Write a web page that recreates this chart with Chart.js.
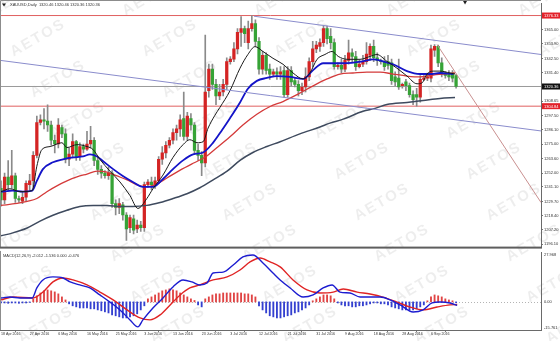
<!DOCTYPE html>
<html>
<head>
<meta charset="utf-8">
<title>XAUUSD Daily</title>
<script src="https://cdn.jsdelivr.net/npm/chart.js@4.4.1/dist/chart.umd.min.js"></script>
<style>
  html, body { margin: 0; padding: 0; background: #fff; }
  #wrap { position: relative; width: 560px; height: 341px; overflow: hidden; background: #fff; }
  #wrap canvas { position: absolute; left: 0; }
</style>
</head>
<body>
<div id="wrap">
  <canvas id="wm" width="560" height="341" style="top:0"></canvas>
  <canvas id="priceChart" width="560" height="251" style="top:0"></canvas>
  <canvas id="macdChart" width="560" height="90" style="top:251px"></canvas>
</div>
<script>
// XAUUSD daily with MAs, trend lines and MACD(12,26,9)

// time axis (a label every 8th bar, bar 0 = 18 Apr 2016)
const dateLabels = ['18 Apr 2016', '27 Apr 2016', '6 May 2016', '16 May 2016', '25 May 2016', '3 Jun 2016',
  '13 Jun 2016', '23 Jun 2016', '3 Jul 2016', '12 Jul 2016', '21 Jul 2016', '31 Jul 2016', '9 Aug 2016',
  '18 Aug 2016', '28 Aug 2016', '6 Sep 2016'];
const dateBars = [0, 8, 16, 24, 32, 40, 48, 56, 64, 72, 80, 88, 96, 104, 112, 120];

// candles
const opens = [
  1240, 1231, 1249, 1243, 1250, 1232, 1230, 1233, 1243, 1246,
  1266, 1292, 1294, 1293, 1290, 1278, 1275, 1288, 1283, 1263,
  1267, 1277, 1265, 1273, 1271, 1275, 1278, 1262, 1255, 1252,
  1250, 1252, 1228, 1225, 1227, 1219, 1209, 1216, 1208, 1211,
  1209, 1243, 1245, 1243, 1246, 1263, 1268, 1274, 1278, 1284,
  1287, 1295, 1281, 1295, 1290, 1270, 1266, 1260, 1317, 1334,
  1322, 1313, 1316, 1322, 1340, 1342, 1350, 1363, 1366, 1355,
  1366, 1370, 1356, 1334, 1345, 1334, 1330, 1332, 1330, 1333,
  1314, 1333, 1325, 1322, 1317, 1320, 1328, 1340, 1350, 1352,
  1355, 1366, 1360, 1355, 1336, 1337, 1334, 1341, 1347, 1344,
  1336, 1338, 1340, 1345, 1352, 1343, 1341, 1340, 1340, 1339,
  1328, 1327, 1321, 1324, 1321, 1314, 1314, 1312, 1326, 1327,
  1327, 1349, 1352, 1339, 1331, 1330, 1331, 1329];
const highs = [
  1246, 1252, 1262, 1270, 1252, 1234, 1237, 1246, 1251, 1269,
  1297, 1298, 1303, 1306, 1293, 1282, 1295, 1290, 1287, 1272,
  1283, 1278, 1276, 1275, 1285, 1289, 1280, 1265, 1258, 1254,
  1257, 1254, 1231, 1232, 1229, 1221, 1219, 1219, 1215, 1214,
  1245, 1247, 1249, 1249, 1265, 1273, 1277, 1280, 1287, 1290,
  1298, 1316, 1300, 1299, 1292, 1275, 1269, 1361, 1338, 1338,
  1326, 1322, 1326, 1343, 1344, 1355, 1366, 1375.5, 1368, 1372,
  1376.3, 1373, 1359, 1348, 1347, 1338, 1334, 1335, 1336, 1336,
  1336, 1336, 1327, 1325, 1323, 1335, 1343, 1356, 1356, 1358,
  1368, 1368, 1366, 1358, 1339, 1342, 1345, 1357, 1350, 1348,
  1341, 1345, 1355, 1354, 1357, 1347, 1342, 1344, 1345, 1342,
  1332, 1342, 1323, 1326, 1323, 1317, 1319, 1329, 1329, 1331,
  1353, 1353.5, 1353, 1343, 1332, 1333, 1333, 1330];
const lows = [
  1226, 1228, 1238, 1240, 1229, 1229, 1228, 1230, 1239, 1240,
  1264, 1290, 1287, 1285, 1274, 1268, 1272, 1280, 1260, 1258,
  1264, 1262, 1262, 1268, 1270, 1272, 1258, 1251, 1248, 1248,
  1247, 1225, 1219, 1220, 1215, 1199, 1205, 1204, 1205, 1206,
  1206, 1241, 1239, 1240, 1244, 1259, 1264, 1272, 1275, 1278,
  1281, 1278, 1278, 1286, 1267, 1262, 1250, 1257, 1312, 1318,
  1306, 1310, 1313, 1318, 1338, 1340, 1346, 1352, 1355, 1350,
  1364, 1352, 1330, 1330, 1330, 1326, 1328, 1326, 1326, 1312,
  1312, 1321, 1320, 1313, 1314, 1316, 1325, 1336, 1347, 1348,
  1352, 1354, 1350, 1334, 1334, 1331, 1332, 1338, 1340, 1333,
  1335, 1336, 1338, 1341, 1340, 1337, 1338, 1333, 1334, 1322,
  1321, 1318, 1319, 1317, 1312, 1306, 1304.84, 1308, 1325, 1325,
  1324, 1344, 1336, 1328, 1327, 1325, 1324, 1319];
const closes = [
  1231, 1249, 1243, 1250, 1232, 1231, 1233, 1244, 1246, 1266,
  1292, 1294, 1293, 1290, 1278, 1275, 1290, 1283, 1263, 1267,
  1277, 1265, 1273, 1271, 1275, 1278, 1262, 1255, 1252, 1250,
  1252, 1228, 1225, 1228, 1219, 1208, 1217, 1207, 1211, 1209,
  1243, 1245, 1243, 1246, 1263, 1268, 1274, 1278, 1284, 1287,
  1294, 1281, 1297, 1290, 1270, 1266, 1260, 1316, 1334, 1322,
  1313, 1316, 1322, 1340, 1342, 1350, 1363, 1366, 1362, 1366,
  1370, 1356, 1334, 1345, 1333, 1330, 1332, 1330, 1332, 1314,
  1333, 1324, 1322, 1317, 1320, 1328, 1340, 1350, 1353, 1355,
  1366, 1358, 1355, 1336, 1337, 1334, 1341, 1347, 1344, 1336,
  1338, 1340, 1346, 1352, 1343, 1341, 1340, 1336, 1337, 1325,
  1324, 1320, 1322, 1321, 1314, 1310, 1312, 1326, 1327, 1328,
  1350, 1352, 1339, 1331, 1329, 1328, 1327, 1320.4];

// moving averages, sampled along each line
const fastMaBars = [0, 2.5, 5.3, 8.7, 10, 11.4, 13.7, 17, 18.4, 21.2, 24, 25.7, 27.6, 30.4, 33.2, 36, 38.2,
  40.7, 42.4, 45.2, 48, 50.8, 52.7, 54.7, 56.4, 57.8, 59.7, 61.1, 63.9, 66.7, 68.9, 70.9, 73.1, 75.9, 78.7,
  81.5, 84.3, 86.2, 88.2, 90.4, 92.4, 94.1, 96.6, 100.2, 103, 104.9, 107.7, 110.5, 113.3, 116.1, 117.5,
  118.9, 120.6, 122.5, 125.3, 126.7];
const fastMa = [1237.4, 1239.7, 1237.4, 1238.2, 1257.5, 1270.6, 1273.0, 1276.0, 1272.2, 1274.5, 1273.0,
  1270.6, 1262.9, 1253.6, 1245.1, 1234.3, 1224.2, 1232.0, 1239.7, 1250.5, 1264.4, 1274.5, 1278.4, 1276.0,
  1276.8, 1287.6, 1297.7, 1303.9, 1317.0, 1334.8, 1345.6, 1351.8, 1348.0, 1342.6, 1337.9, 1331.0, 1326.3,
  1331.0, 1341.8, 1345.6, 1348.0, 1344.1, 1341.8, 1341.8, 1344.1, 1345.6, 1340.2, 1334.8, 1328.6, 1322.5,
  1323.2, 1330.2, 1332.5, 1332.5, 1331.0, 1330.2];
const midMaBars = [0, 3.3, 6.1, 8.7, 10, 11.7, 14.5, 17.3, 20.1, 22.9, 24.8, 26.8, 28.5, 31.3, 34, 36.8,
  39.6, 42.4, 45.2, 48, 50.8, 53.6, 56.4, 59.2, 61.7, 63.9, 66.7, 68.9, 71.4, 74.2, 77, 80.7, 84.3, 87.1,
  89.9, 92.7, 95.5, 101, 103.8, 106.6, 109.4, 113.3, 116.9, 119.7, 122.5, 126.2];
const midMa = [1237.4, 1238.2, 1237.4, 1238.2, 1245.9, 1255.2, 1260.6, 1262.9, 1264.4, 1265.2, 1266.8,
  1265.2, 1261.4, 1255.2, 1249.8, 1245.1, 1241.2, 1241.2, 1247.4, 1255.2, 1262.1, 1266.8, 1268.3, 1276.1,
  1286.1, 1295.4, 1307.8, 1318.6, 1324.8, 1327.1, 1328.6, 1327.9, 1326.3, 1333.3, 1338.7, 1338.7, 1338.7,
  1340.2, 1341.8, 1340.2, 1337.9, 1332.5, 1330.2, 1330.2, 1331.0, 1330.2];
const slowMaBars = [0, 4.5, 7.3, 10, 12.8, 15.6, 18.4, 21.2, 24, 26.8, 29.6, 32.4, 35.2, 38, 40.2, 43, 46.3,
  50, 53.6, 56.9, 60.3, 63.9, 67.5, 71.4, 75.1, 78.7, 82.6, 87.1, 91, 94.6, 98.2, 102.1, 105.8, 109.4,
  113.3, 116.9, 120.6, 126.7];
const slowMa = [1226.6, 1228.1, 1229.7, 1232.0, 1237.4, 1242.0, 1245.9, 1249.0, 1251.3, 1253.6, 1252.9,
  1249.8, 1246.7, 1242.8, 1241.2, 1242.8, 1248.2, 1254.4, 1259.8, 1264.5, 1272.2, 1280.7, 1290.0, 1298.5,
  1304.6, 1308.5, 1313.9, 1320.9, 1326.3, 1330.2, 1331.0, 1331.7, 1331.7, 1330.2, 1328.6, 1327.9, 1329.4,
  1331.0];
const longMaBars = [0, 3.3, 7.3, 10.9, 14.5, 18.4, 22, 25.7, 29.6, 33.2, 36.8, 40.7, 44.4, 48, 51.9, 55.5,
  59.2, 63.1, 66.7, 70.3, 74.2, 77.9, 83.4, 89, 91.8, 95.5, 101, 104.4, 107.7, 113.3, 117.8, 122.5, 126.7];
const longMa = [1202.6, 1204.9, 1208.8, 1214.2, 1218.8, 1222.7, 1225.8, 1226.6, 1226.6, 1225.8, 1225.8,
  1226.6, 1228.9, 1232.0, 1235.8, 1240.5, 1246.7, 1253.6, 1262.1, 1268.3, 1273.0, 1276.8, 1283.0, 1288.4,
  1291.5, 1294.6, 1300.8, 1303.1, 1306.2, 1307.8, 1309.3, 1310.9, 1311.6];

// trend lines and horizontal levels
const upperTrendBars = [70.6, 150.7];
const upperTrendPrices = [1375.8, 1345.6];
const lowerTrendBars = [-0.3, 150.7];
const lowerTrendPrices = [1341.0, 1285.3];
const fallTrendBars = [121.7, 150.7];
const fallTrendPrices = [1353.4, 1228.9];
const levelPrices = [1376.33, 1320.36, 1304.84];

// price axis labels
const priceTicks = [1365.00, 1353.90, 1342.50, 1331.40, 1308.65, 1297.50, 1286.10, 1275.00, 1263.60,
  1252.00, 1241.10, 1229.70, 1218.40, 1207.20, 1196.10];

// MACD
const macdBars = [0, 2.5, 5.3, 8.7, 10, 11.7, 14.5, 17.3, 19.3, 22, 24.8, 27.6, 30.4, 33.2, 36, 38.2, 39.6,
  42.4, 45.2, 48, 50.8, 53.3, 55.5, 57.5, 59.2, 62, 64.8, 67.5, 70.3, 73.1, 75.9, 77.9, 80.7, 84.3, 87.1,
  89.9, 92.4, 94.6, 97.4, 100.2, 103, 105.8, 108.6, 111.4, 115, 117.8, 120.3, 122.5, 125.3, 127.3];
const macdMain = [2.2, 2.7, 2.2, 2.2, 7.8, 12.3, 14.0, 13.4, 11.2, 9.5, 7.8, 3.9, -0.1, -4.5, -10.1, -14.0,
  -10.1, -3.4, 2.2, 8.4, 12.3, 11.2, 9.5, 10.6, 16.2, 16.7, 20.7, 25.2, 26.3, 21.8, 16.2, 12.3, 7.8, 2.7,
  3.9, 7.8, 9.5, 5.5, 5.0, 2.7, 2.7, 2.7, 1.1, -1.7, -5.7, -4.5, -0.6, -0.1, -0.6, -2.0];
const signalBars = [0, 3.3, 8.9, 11.7, 14.5, 17.3, 20.1, 24, 27.6, 31.3, 35.2, 38.8, 41.6, 44.4, 47.2, 50,
  52.7, 55.5, 59.2, 63.1, 66.7, 69.5, 72.3, 75.1, 77.9, 81.5, 85.4, 89, 92.7, 95.5, 99.4, 103, 106.6,
  110.5, 114.2, 117.8, 121.7, 125.3, 127.3];
const macdSignal = [1.1, 2.7, 2.2, 5.5, 11.2, 13.4, 12.3, 9.5, 5.5, 1.1, -4.5, -9.0, -10.1, -7.3, -1.7, 3.9,
  7.8, 9.5, 12.3, 14.0, 17.9, 22.4, 24.6, 22.4, 19.6, 12.3, 6.7, 5.0, 5.5, 7.2, 5.5, 4.4, 2.7, -0.1, -2.9,
  -4.5, -2.9, -1.7, -1.5];
const macdHist = [
  -0.6, -0.6, -0.8, -0.6, -0.6, -0.8, -0.6, -0.6, -0.3,
  1.7, 3.4, 5.0, 6.2, 6.7, 6.2, 5.6, 4.5, 2.8, 1.1,
  -1.1, -2.2, -2.8, -3.4, -3.4, -3.4, -3.9, -3.9, -4.5, -5.0, -5.6, -6.2, -7.3, -7.8, -8.4, -9.0, -9.0,
  -8.4, -7.8, -6.7, -4.5, -2.2,
  1.7, 2.8, 3.9, 5.0, 6.2, 6.7, 7.3, 6.7, 6.2, 5.0, 3.9, 2.8, 1.7, 0.8,
  -1.7, -2.8,
  1.7, 2.8, 3.9, 4.5, 4.5, 5.0, 5.0, 5.0, 5.0, 5.0, 5.0, 4.5, 4.5, 3.9, 2.8,
  -2.2, -4.5, -6.2, -7.8, -8.4, -9.0,
  -9.0, -8.4, -7.8, -7.3, -6.2, -5.6, -4.5, -3.4, -1.7,
  0.6, 1.7, 2.8, 3.9, 3.9, 3.4, 1.7,
  -0.6, -1.7, -2.2, -2.2, -2.8, -2.8, -2.2, -2.2, -1.7,
  -1.1, -0.6, -0.6, -1.1, -1.1,
  -1.7, -2.8, -3.4, -3.9, -4.5, -4.5, -4.5, -4.5, -3.9, -2.8, -1.7,
  0.6, 2.8, 3.9, 3.4, 2.8, 1.7, 1.1, 0.6, -0.5];
const macdTicks = [27.968, 0, -15.761];
const macdTickLabels = ['27.968', '0.00', '-15.761'];

const priceTitle = 'XAUUSD,Daily  1320.46 1320.46 1320.36 1320.36';
const macdTitle = 'MACD(12,26,9) -2.012 -1.536 0.000 -0.476';

// view window
const X_MIN = -0.28, X_MAX = 150.7;
const P_MIN = 1193.3, P_MAX = 1385.9;

const FONT = '"Liberation Sans", Arial, sans-serif';
const UP = '#d42424', DOWN = '#36a336';
const TEXT = '#333';

Chart.defaults.font.family = FONT;

function pts(bars, vals) {
  return bars.map((b, i) => ({ x: b, y: vals[i] }));
}

function lineDs(data, color, width, order, smooth) {
  return {
    type: 'line', data, borderColor: color, borderWidth: width, pointRadius: 0, fill: false,
    cubicInterpolationMode: smooth ? 'monotone' : 'default', tension: 0, order
  };
}

// watermark behind both panels
function drawWatermark() {
  const c = document.getElementById('wm').getContext('2d');
  c.font = 'bold 15px ' + FONT;
  if ('letterSpacing' in c) c.letterSpacing = '2px';
  c.fillStyle = 'rgba(0,0,0,0.07)';
  c.textAlign = 'center';
  c.textBaseline = 'middle';
  for (let k = -4; k <= 6; k++) {
    for (let m = -2; m <= 5; m++) {
      c.save();
      c.translate(78 + 132 * m + 20 * k, 120 + 41 * k);
      c.rotate(-0.52);
      c.fillText('AETOS', 0, 0);
      c.restore();
    }
  }
}

const candleColors = opens.map((o, i) => closes[i] >= o ? UP : DOWN);
const levelColors = ['#e06060', '#9a9a9a', '#e06060'];
const levelBoxColors = ['#e3222a', '#111111', '#e3222a'];

const priceOverlay = {
  id: 'priceOverlay',
  afterDraw(chart) {
    const { ctx, chartArea: a, scales: { x, y } } = chart;
    ctx.save();
    // frame
    ctx.strokeStyle = '#8c8c8c';
    ctx.lineWidth = 1;
    ctx.beginPath();
    ctx.moveTo(0.5, a.bottom);
    ctx.lineTo(0.5, 0.5);
    ctx.lineTo(a.right, 0.5);
    ctx.stroke();
    // panel separator
    ctx.fillStyle = '#5e5e5e';
    ctx.fillRect(0, a.bottom - 1, a.right + 1, 2);
    // title
    ctx.fillStyle = '#222';
    ctx.beginPath();
    ctx.moveTo(2, 3.5); ctx.lineTo(6, 3.5); ctx.lineTo(4, 6.5);
    ctx.fill();
    ctx.font = '4px ' + FONT;
    ctx.fillStyle = TEXT;
    ctx.textBaseline = 'middle';
    ctx.textAlign = 'left';
    ctx.fillText(priceTitle, 10, 5);
    // chart shift marker
    const sx = x.getPixelForValue(129.5);
    ctx.fillStyle = '#222';
    ctx.beginPath();
    ctx.moveTo(sx - 2, 1); ctx.lineTo(sx + 2, 1); ctx.lineTo(sx, 4.5);
    ctx.fill();
    // highlighted price labels
    levelPrices.forEach((v, i) => {
      const py = y.getPixelForValue(v);
      ctx.fillStyle = levelBoxColors[i];
      ctx.fillRect(a.right + 1, py - 3, 19, 6);
      ctx.fillStyle = '#fff';
      ctx.fillText(v.toFixed(2), a.right + 3, py + 0.3);
    });
    ctx.restore();
  }
};

const priceChart = new Chart(document.getElementById('priceChart'), {
  type: 'bar',
  data: {
    datasets: [
      {
        data: highs.map((h, i) => ({ x: i, y: [lows[i], h] })),
        backgroundColor: '#8a8a8a', barThickness: 1, grouped: false, order: 10
      },
      {
        data: opens.map((o, i) => ({ x: i, y: [o, closes[i]] })),
        backgroundColor: candleColors, barThickness: 2.6, minBarLength: 1, grouped: false, order: 9
      },
      ...levelPrices.map((v, i) => lineDs([{ x: X_MIN, y: v }, { x: X_MAX, y: v }], levelColors[i], 1, 11, false)),
      lineDs(pts(longMaBars, longMa), '#3e4a5e', 1.5, 5, true),
      lineDs(pts(slowMaBars, slowMa), '#d43a3a', 1.3, 4, true),
      lineDs(pts(midMaBars, midMa), '#1414c8', 1.8, 3, true),
      lineDs(pts(fastMaBars, fastMa), '#1a1a1a', 1, 2, true),
      lineDs(pts(upperTrendBars, upperTrendPrices), '#8a8ccc', 1, 1, false),
      lineDs(pts(lowerTrendBars, lowerTrendPrices), '#8a8ccc', 1, 1, false),
      lineDs(pts(fallTrendBars, fallTrendPrices), '#c99090', 1, 1, false)
    ]
  },
  options: {
    responsive: false,
    devicePixelRatio: 1,
    animation: false,
    events: [],
    layout: { padding: { top: 1, bottom: 1, left: 0, right: 0 } },
    plugins: { legend: { display: false }, tooltip: { enabled: false } },
    scales: {
      x: { type: 'linear', min: X_MIN, max: X_MAX, offset: false, display: false },
      y: {
        position: 'right', min: P_MIN, max: P_MAX,
        afterFit(s) { s.width = 19; },
        afterBuildTicks(s) { s.ticks = priceTicks.map(v => ({ value: v })); },
        ticks: {
          autoSkip: false, padding: 1, color: TEXT, font: { size: 4 },
          callback: v => v.toFixed(2)
        },
        grid: { drawOnChartArea: false, tickLength: 2, color: '#777' },
        border: { display: true, color: '#6a6a6a' }
      }
    }
  },
  plugins: [priceOverlay]
});

const macdOverlay = {
  id: 'macdOverlay',
  beforeDatasetsDraw(chart) {
    const { ctx, chartArea: a, scales: { y } } = chart;
    const zy = Math.round(y.getPixelForValue(0)) + 0.5;
    ctx.save();
    ctx.strokeStyle = '#b4b4b4';
    ctx.lineWidth = 1;
    ctx.setLineDash([1, 2]);
    ctx.beginPath();
    ctx.moveTo(a.left, zy);
    ctx.lineTo(a.right, zy);
    ctx.stroke();
    ctx.restore();
  },
  afterDraw(chart) {
    const { ctx, chartArea: a, scales: { y } } = chart;
    ctx.save();
    ctx.strokeStyle = '#8c8c8c';
    ctx.lineWidth = 1;
    ctx.beginPath();
    ctx.moveTo(0.5, a.bottom);
    ctx.lineTo(0.5, 0);
    ctx.stroke();
    ctx.font = '4px ' + FONT;
    ctx.fillStyle = TEXT;
    ctx.textAlign = 'left';
    ctx.textBaseline = 'middle';
    ctx.fillText(macdTitle, 3, a.top + 4);
    macdTicks.forEach((v, i) => {
      const py = y.getPixelForValue(v);
      ctx.textBaseline = i === 0 ? 'top' : (i === macdTicks.length - 1 ? 'bottom' : 'middle');
      ctx.fillText(macdTickLabels[i], a.right + 3, i === 0 ? py + 0.5 : py);
    });
    ctx.restore();
  }
};

const macdChart = new Chart(document.getElementById('macdChart'), {
  type: 'bar',
  data: {
    datasets: [
      {
        data: macdHist.map((h, i) => ({ x: i, y: h })),
        backgroundColor: macdHist.map(h => h >= 0 ? '#e04444' : '#3440d0'),
        barThickness: 1.2, grouped: false, order: 3
      },
      lineDs(pts(signalBars, macdSignal), '#e02424', 1.4, 2, true),
      lineDs(pts(macdBars, macdMain), '#1c1cd0', 1.4, 1, true)
    ]
  },
  options: {
    responsive: false,
    devicePixelRatio: 1,
    animation: false,
    events: [],
    layout: { padding: { top: 1, bottom: 0, left: 0, right: 0 } },
    plugins: { legend: { display: false }, tooltip: { enabled: false } },
    scales: {
      x: {
        type: 'linear', min: X_MIN, max: X_MAX, offset: false,
        afterFit(s) { s.height = 11; },
        afterBuildTicks(s) { s.ticks = dateBars.map(v => ({ value: v })); },
        ticks: {
          autoSkip: false, maxRotation: 0, minRotation: 0, align: 'start', padding: 0,
          color: TEXT, font: { size: 3.6 },
          callback: (v, i) => dateLabels[i]
        },
        grid: { drawOnChartArea: false, tickLength: 2, color: '#777' },
        border: { display: true, color: '#6a6a6a' }
      },
      y: {
        position: 'right', min: macdTicks[2], max: macdTicks[0],
        afterFit(s) { s.width = 19; },
        ticks: { display: false },
        grid: { display: false },
        border: { display: true, color: '#6a6a6a' }
      }
    }
  },
  plugins: [macdOverlay]
});

drawWatermark();
</script>
</body>
</html>
